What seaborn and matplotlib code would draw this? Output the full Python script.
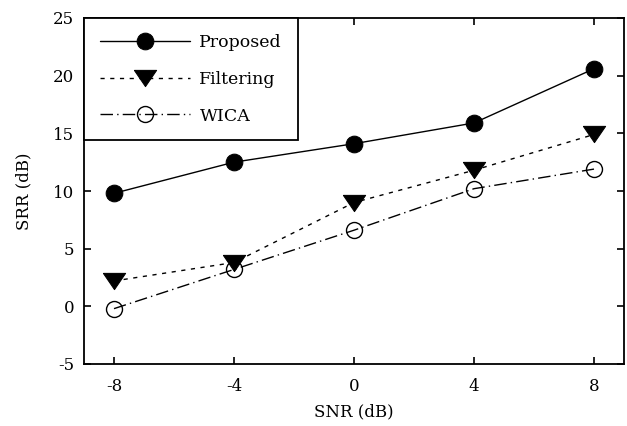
import matplotlib
matplotlib.use("Agg")
import matplotlib.pyplot as plt
import seaborn as sns
import pandas as pd

snr = [-8, -4, 0, 4, 8]
proposed = [9.8, 12.5, 14.1, 15.9, 20.6]
filtering = [2.2, 3.8, 9.0, 11.8, 14.9]
wica = [-0.2, 3.2, 6.6, 10.2, 11.9]
xticks = [-8, -4, 0, 4, 8]
yticks = [-5, 0, 5, 10, 15, 20, 25]

sns.set_theme(style="white")
plt.rcParams['font.family'] = ['DejaVu Serif', 'Liberation Serif']
plt.rcParams['text.color'] = 'black'
plt.rcParams['axes.labelcolor'] = 'black'
plt.rcParams['xtick.color'] = 'black'
plt.rcParams['ytick.color'] = 'black'

fig = plt.figure(figsize=(6.27, 4.26), dpi=100)
ax = fig.add_axes([84/627, 1-364/426, (624-84)/627, (364-18)/426])

tri = [(-1, 0.73), (1, 0.73), (0, -0.73), (-1, 0.73)]
series = [
    ("Proposed", proposed, dict(linestyle='-', marker='o', markersize=12,
                                markerfacecolor='black', markeredgecolor='black')),
    ("Filtering", filtering, dict(linestyle=(0, (3, 4)), marker=tri, markersize=16,
                                  markerfacecolor='black', markeredgecolor='black')),
    ("WICA", wica, dict(linestyle=(0, (9, 3, 1, 3)), marker='o', markersize=11.5,
                        markerfacecolor='none', markeredgecolor='black', markeredgewidth=1.0)),
]
for name, vals, kw in series:
    df = pd.DataFrame({"SNR": snr, "SRR": vals})
    sns.lineplot(data=df, x="SNR", y="SRR", ax=ax, color='black', linewidth=1.0,
                 label=name, **kw)

ax.set_xlim(-9, 9)
ax.set_ylim(-5, 25)
ax.set_xticks(xticks)
ax.set_yticks(yticks)
ax.set_xticklabels([str(v) for v in xticks])
ax.set_yticklabels([str(v) for v in yticks])
ax.tick_params(direction='in', length=5, width=1.2, top=True, right=True,
               labelsize=12, colors='black', bottom=True, left=True)
ax.tick_params(axis='x', pad=10)
ax.tick_params(axis='y', pad=7)
for s in ax.spines.values():
    s.set_color('black')
    s.set_linewidth(1.3)
ax.set_xlabel("SNR (dB)", fontsize=12, color='black')
ax.set_ylabel("SRR (dB)", fontsize=12, color='black')
ax.xaxis.set_label_coords(0.5, (364-412)/346, transform=ax.transAxes)
ax.yaxis.set_label_coords((24-84)/540, 0.5, transform=ax.transAxes)
ax.xaxis.label.set_va('center')
ax.yaxis.label.set_va('center')

leg = ax.legend(loc='upper left', fontsize=12.5, frameon=True, fancybox=False,
                edgecolor='black', handlelength=5.2, borderaxespad=0,
                labelspacing=1.15, borderpad=0.9, handletextpad=0.55)
leg.get_frame().set_linewidth(1.3)
leg.get_frame().set_alpha(1)
for t in leg.get_texts():
    t.set_color('black')

fig.savefig("out.png", dpi=100)
